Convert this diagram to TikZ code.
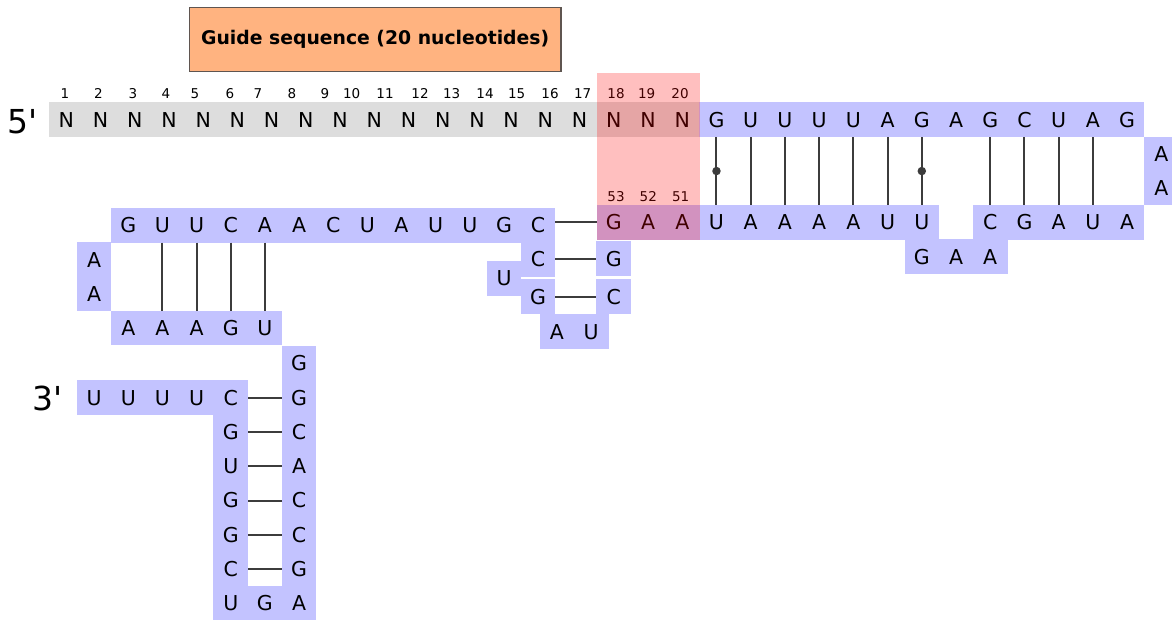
\documentclass[tikz,border=0pt]{standalone}
\usepackage{fontspec}
\newfontfamily\dejavu{DejaVu Sans}
\usetikzlibrary{backgrounds}
\definecolor{rnablue}{RGB}{195,195,255}
\definecolor{ngray}{RGB}{221,221,221}
\definecolor{guideorange}{RGB}{255,179,128}
\definecolor{guideedge}{RGB}{95,85,80}
\definecolor{pairline}{RGB}{60,60,60}

\begin{document}
\begin{tikzpicture}[x=1pt,y=-1pt,
  nuc/.style={minimum width=34.22pt,minimum height=34.22pt,inner sep=0pt,
    font=\dejavu\fontsize{20.5}{22}\selectfont,text height=14.9pt,text depth=0pt},
  idx/.style={inner sep=0pt,font=\dejavu\fontsize{13.5}{15}\selectfont,
    text height=9.85pt,text depth=0pt},
  endlabel/.style={inner sep=0pt,anchor=west,font=\dejavu\fontsize{33}{36}\selectfont,
    text height=24pt,text depth=0pt},
  bp/.style={draw=pairline,line width=2pt},
  wobble/.style={circle,fill=pairline,inner sep=0pt,minimum size=8.5pt},
  strand/.style={fill=rnablue},
  guidestrand/.style={fill=ngray},
  highlight/.style={fill=red,opacity=0.25}]

\useasboundingbox (0,0) rectangle (1172,619);

% guide label
\node[draw=guideedge,fill=guideorange,line width=1.2pt,minimum width=371.7pt,
  minimum height=64.4pt,inner sep=0pt,
  font=\dejavu\bfseries\fontsize{18.8}{20}\selectfont] (guide) at (375.15,39.5)
  {Guide sequence (20 nucleotides)};

% 5' end: guide Ns followed by the repeat
\foreach \s [count=\k] in {N,N,N,N,N,N,N,N,N,N,N,N,N,N,N,N,N,N,N,
                           G,U,U,U,U,A,G,A,G,C,U,A,G}
  \node[nuc] (t\k) at ({66.3+(\k-1)*34.22},119.7) {\s};
\foreach \x [count=\i] in {65,98.3,133,166,195,230,258,292,325,351.7,
                           385,420,451.7,485,516.7,550,582.7,616,646.7,680}
  \node[idx] (n\i) at (\x,94) {\i};
\node[endlabel] (five) at (7.5,121.4) {5'};

% tetraloop
\node[nuc] (r1) at (1161.3,153.9) {A};
\node[nuc] (r2) at (1161.3,188.1) {A};

% anti-repeat
\foreach \s [count=\i from 17] in {G,A,A,U,A,A,A,A,U,U}
  \node[nuc] (b\i) at ({66.3+(\i-1)*34.22},222.4) {\s};
\foreach \s [count=\i from 28] in {C,G,A,U,A}
  \node[nuc] (b\i) at ({66.3+(\i-1)*34.22},222.4) {\s};
\foreach \s [count=\i from 26] in {G,A,A}
  \node[nuc] (g\i) at ({66.3+(\i-1)*34.22},256.6) {\s};
\node[idx] (c53) at (616,196.7) {53};
\node[idx] (c52) at (648.3,196.7) {52};
\node[idx] (c51) at (680.7,196.7) {51};

% repeat / anti-repeat pairs (shifted onto whole pixels for even strokes)
\foreach \k in {21,22,23,24,25,28,29,30,31} {
  \pgfmathsetmacro\dx{round(66.3+(\k-1)*34.22)-(66.3+(\k-1)*34.22)}
  \draw[bp,xshift=\dx pt] (t\k.south) -- (b\k.north);
}
\foreach \k in {20,26} {
  \pgfmathsetmacro\dx{round(66.3+(\k-1)*34.22)-(66.3+(\k-1)*34.22)}
  \draw[bp,xshift=\dx pt] (t\k.south) -- node[wobble] {} (b\k.north);
}

% nexus and stem loop 1
\foreach \s [count=\j from 0] in {G,U,U,C,A,A,C,U,A,U,U,G,C}
  \node[nuc] (m\j) at ({128.3+\j*34.15},225.4) {\s};
\node[nuc] (la1) at (94.15,259.6) {A};
\node[nuc] (la2) at (94.15,293.8) {A};
\foreach \s [count=\j from 0] in {A,A,A,G,U}
  \node[nuc] (a\j) at ({128.3+\j*34.15},328.0) {\s};
\foreach \j in {1,2,3,4} {
  \pgfmathsetmacro\dx{round(128.3+\j*34.15)-(128.3+\j*34.15)}
  \draw[bp,xshift=\dx pt] (m\j.south) -- (a\j.north);
}

\node[nuc] (h1) at (538.1,259.2) {C};
\node[nuc] (hu) at (504,278.4) {U};
\node[nuc] (h2) at (538.1,296.7) {G};
\node[nuc] (ha) at (557,331.7) {A};
\node[nuc] (hb) at (591.2,331.7) {U};
\node[nuc] (h3) at (613.8,258.6) {G};
\node[nuc] (h4) at (613.8,296.7) {C};
\draw[bp,yshift=0.4pt] (m12.east |- b17.west) -- (b17.west);
\draw[bp,yshift=0.2pt] (h1.east) -- (h1.east -| h3.west);
\draw[bp,yshift=-0.3pt] (h2.east) -- (h4.west);

% stem loop 2 and 3' tail
\foreach \s [count=\k from 0] in {G,G,C,A,C,C,G,A}
  \node[nuc] (s\k) at (299.05,{363.3+\k*34.3}) {\s};
\foreach \s [count=\k from 1] in {C,G,U,G,G,C,U}
  \node[nuc] (l\k) at (230.75,{363.3+\k*34.3}) {\s};
\foreach \j in {0,1,2,3}
  \node[nuc] (u\j) at ({94.15+\j*34.15},397.6) {U};
\node[nuc] (mg) at (264.9,603.4) {G};
\node[endlabel] (three) at (32.5,398.3) {3'};
\foreach \k in {1,...,6} {
  \pgfmathsetmacro\dy{(363.3+\k*34.3)-round(363.3+\k*34.3)}
  \draw[bp,yshift=\dy pt] (l\k.east) -- (s\k.west);
}

% strand backgrounds
\begin{scope}[on background layer]
  \fill[guidestrand] (t1.north west) rectangle (t19.south east);
  \fill[strand] (t20.north west) rectangle (t32.south east);
  \fill[strand] (r1.north west) rectangle (r2.south east);
  \fill[strand] (b17.north west) rectangle (b26.south east);
  \fill[strand] (b28.north west) rectangle (b32.south east);
  \fill[strand] (g26.north west) rectangle (g28.south east);
  \fill[strand] (m0.north west) rectangle (m12.south east);
  \fill[strand] (la1.north west) rectangle (la2.south east);
  \fill[strand] (a0.north west) rectangle (a4.south east);
  \foreach \n in {h1,hu,h2,h3,h4}
    \fill[strand] (\n.north west) rectangle (\n.south east);
  \fill[strand] (ha.north west) rectangle (hb.south east);
  \fill[strand] (s0.north west) rectangle (s7.south east);
  \fill[strand] (u0.north west) rectangle (l1.south east);
  \fill[strand] (l1.north west) rectangle (l7.south east);
  \fill[strand] (l7.north west) rectangle (s7.south east);
\end{scope}

% seed region highlight
\fill[highlight] (t17.south west |- 0,73) rectangle (b19.south east);
\end{tikzpicture}
\end{document}
